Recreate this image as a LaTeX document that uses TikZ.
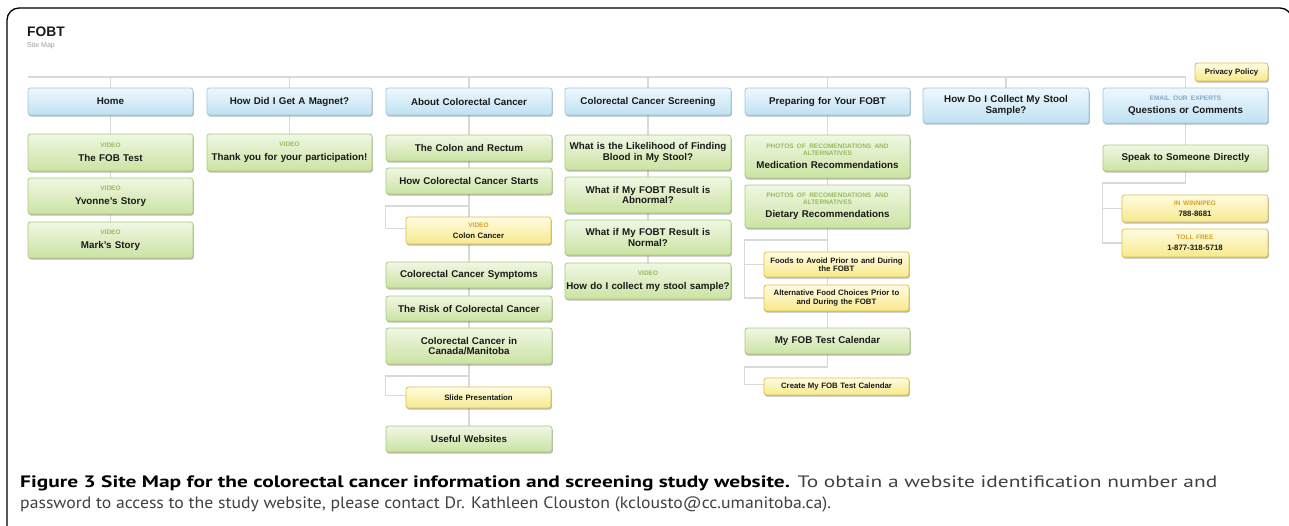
\documentclass[tikz,border=0pt]{standalone}
\usepackage{fontspec}
\usepackage{graphicx}
\setmainfont{Liberation Sans}
\newfontfamily\capfont{PT Sans}
\usetikzlibrary{shadows,backgrounds}
\definecolor{bluetop}{HTML}{EEF8FD}
\definecolor{bluebot}{HTML}{BFE1F3}
\definecolor{blueline}{HTML}{A0CAE1}
\definecolor{greentop}{HTML}{F0F7E4}
\definecolor{greenbot}{HTML}{CBE3A2}
\definecolor{greenline}{HTML}{A6CD78}
\definecolor{yeltop}{HTML}{FFFCE0}
\definecolor{yelbot}{HTML}{F7E98E}
\definecolor{yelline}{HTML}{DDBF4E}
\definecolor{subgreen}{HTML}{97BC5C}
\definecolor{subyel}{HTML}{D3A22A}
\definecolor{subblue}{HTML}{86A9C4}
\definecolor{txt}{HTML}{1A1A1A}
\definecolor{connc}{HTML}{D9D9D9}
\definecolor{capgray}{HTML}{404040}
\definecolor{sitegray}{HTML}{9A9A9A}
\newcommand\mainf{\fontsize{9.8}{10.2}\selectfont\bfseries}
\newcommand\yelf{\fontsize{7.8}{8.4}\selectfont\bfseries}
\newcommand\subg{\fontsize{6.5}{7}\selectfont\bfseries\color{subgreen}}
\newcommand\suby{\fontsize{6.5}{7}\selectfont\bfseries\color{subyel}}
\newcommand\subb{\fontsize{6.5}{7}\selectfont\bfseries\color{subblue}}
\tikzset{
  boxbase/.style={rounded corners=2.5pt, line width=0.8pt, inner xsep=0pt, inner ysep=1pt,
    align=center, text=txt,
    drop shadow={shadow xshift=0.8pt, shadow yshift=-1.6pt, fill=black, opacity=0.28}},
  bluebox/.style={boxbase, draw=blueline, top color=bluetop, bottom color=bluebot,
    font=\mainf, minimum width=165pt, minimum height=27pt, text width=164pt},
  greenbox/.style={boxbase, draw=greenline, top color=greentop, bottom color=greenbot,
    font=\mainf, minimum width=165pt, text width=164pt},
  yelbox/.style={boxbase, draw=yelline, top color=yeltop, bottom color=yelbot,
    font=\yelf, minimum width=145pt, text width=144pt},
  conn/.style={draw=connc, line width=1.4pt}
}
\begin{document}
\begin{tikzpicture}[x=1pt,y=-1pt]
\useasboundingbox (0,0) rectangle (1289,525);
\clip (0,0) rectangle (1289,525);
\draw[line width=1.3pt, rounded corners=12pt] (7,540) -- (7,8) -- (1292,8) -- (1292,540);

% header
\node[anchor=base west, inner sep=0, text=txt, font=\fontsize{13.8}{14}\selectfont\bfseries] (title) at (27,36) {FOBT};
\node[anchor=base west, inner sep=0, text=sitegray, font=\fontsize{7}{8}\selectfont] (sitemap) at (27,47) {Site Map};

% level 1
\node[bluebox] (home) at (110.5,101.5) {Home};
\node[bluebox] (magnet) at (289.5,101.5) {How Did I Get A Magnet?};
\node[bluebox, minimum width=166pt] (about) at (469,101.5) {About Colorectal Cancer};
\node[bluebox, minimum width=166pt] (screen) at (648,101.5) {Colorectal Cancer Screening};
\node[bluebox] (prep) at (827.5,101.5) {Preparing for Your FOBT};
\node[bluebox, minimum width=166pt, minimum height=35pt] (collect) at (1006,105.5) {How Do I Collect My Stool\\Sample?};
\node[bluebox, minimum height=35pt] (quest) at (1185.5,105.5) {{\subb EMAIL OUR EXPERTS}\\[3pt]Questions or Comments};
\node[yelbox, minimum width=73pt, text width=72pt, minimum height=18pt] (privacy) at (1231.5,72) {Privacy Policy};

% column 1
\node[greenbox, minimum height=37pt] (fob) at (110.5,152.5) {{\subg VIDEO}\\[3.5pt]The FOB Test};
\node[greenbox, minimum height=36pt] (yvonne) at (110.5,196) {{\subg VIDEO}\\[3.5pt]Yvonne's Story};
\node[greenbox, minimum height=36pt] (mark) at (110.5,240) {{\subg VIDEO}\\[3.5pt]Mark's Story};
% column 2
\node[greenbox, minimum height=37pt] (thank) at (289.5,152.5) {{\subg VIDEO}\\[3.5pt]Thank you for your participation!};
% column 3
\node[greenbox, minimum width=166pt, minimum height=26pt] (colon) at (469,148) {The Colon and Rectum};
\node[greenbox, minimum width=166pt, minimum height=26pt] (starts) at (469,181) {How Colorectal Cancer Starts};
\node[yelbox, minimum height=27pt] (coloncancer) at (478.5,230.5) {{\suby VIDEO}\\[2.5pt]Colon Cancer};
\node[greenbox, minimum width=166pt, minimum height=26pt] (symptoms) at (469,275) {Colorectal Cancer Symptoms};
\node[greenbox, minimum width=166pt, minimum height=25pt] (risk) at (469,308.5) {The Risk of Colorectal Cancer};
\node[greenbox, minimum width=166pt, minimum height=36pt] (canada) at (469,346) {Colorectal Cancer in\\Canada/Manitoba};
\node[yelbox, minimum height=21pt] (slide) at (478.5,397.5) {Slide Presentation};
\node[greenbox, minimum width=166pt, minimum height=26pt] (useful) at (469,439) {Useful Websites};
% column 4
\node[greenbox, minimum width=166pt, minimum height=35pt] (likely) at (648,152.5) {What is the Likelihood of Finding\\Blood in My Stool?};
\node[greenbox, minimum width=166pt, minimum height=36pt] (abnormal) at (648,195) {What if My FOBT Result is\\Abnormal?};
\node[greenbox, minimum width=166pt, minimum height=35pt] (normal) at (648,237.5) {What if My FOBT Result is\\Normal?};
\node[greenbox, minimum width=166pt, minimum height=36pt] (howdo) at (648,281) {{\subg VIDEO}\\[3.5pt]How do I collect my stool sample?};
% column 5
\node[greenbox, minimum height=43pt] (medic) at (827.5,156.5) {{\subg PHOTOS OF RECOMENDATIONS AND}\\[-3.6pt]{\subg ALTERNATIVES}\\[3.5pt]Medication Recommendations};
\node[greenbox, minimum height=43pt] (dietary) at (827.5,206.5) {{\subg PHOTOS OF RECOMENDATIONS AND}\\[-3.6pt]{\subg ALTERNATIVES}\\[3.5pt]Dietary Recommendations};
\node[yelbox, minimum height=25pt] (foods) at (836.5,264.5) {Foods to Avoid Prior to and During\\the FOBT};
\node[yelbox, minimum height=26pt] (altern) at (836.5,298) {Alternative Food Choices Prior to\\and During the FOBT};
\node[greenbox, minimum height=26pt] (calendar) at (827.5,341) {My FOB Test Calendar};
\node[yelbox, minimum height=17pt] (create) at (836.5,386.5) {Create My FOB Test Calendar};
% column 7
\node[greenbox, minimum height=26pt] (speak) at (1185.5,158) {Speak to Someone Directly};
\node[yelbox, minimum width=146pt, text width=145pt, minimum height=27pt] (winnipeg) at (1195,208.5) {{\suby IN WINNIPEG}\\[2.5pt]788-8681};
\node[yelbox, minimum width=146pt, text width=145pt, minimum height=28pt] (tollfree) at (1195,243) {{\suby TOLL FREE}\\[2.5pt]1-877-318-5718};

% caption
\node[anchor=base west, inner sep=0] (cap1) at (20,487) {\resizebox{1197pt}{\height}{\capfont\fontsize{16.5}{20}\selectfont\textbf{Figure 3 Site Map for the colorectal cancer information and screening study website.} {\color{capgray}To obtain a website identification number and}}};
\node[anchor=base west, inner sep=0] (cap2) at (20,508) {\resizebox{811pt}{\height}{\capfont\fontsize{16.5}{20}\selectfont\color{capgray}password to access to the study website, please contact Dr. Kathleen Clouston (kclousto@cc.umanitoba.ca).}};

% connectors
\begin{pgfonlayer}{background}
\coordinate (topL) at (28,77);
\draw[conn] (topL) -- (topL -| quest.north);
\foreach \n in {home,magnet,about,screen,prep,collect,quest}
  \draw[conn] (\n.north) -- (\n.north |- topL);
\draw[conn] (home.south) -- (mark.north);
\draw[conn] (magnet.south) -- (thank.north);
\draw[conn] (about.south) -- (useful.north);
\draw[conn] (screen.south) -- (howdo.north);
\draw[conn] (prep.south) -- (calendar.north);
\draw[conn] (quest.south) -- (speak.north);
% col 3 branches
\coordinate (b3a) at (469,206);
\coordinate (b3b) at (469,376);
\draw[conn] (b3a) -- (b3a -| about.west) -- ([yshift=2pt]about.west |- coloncancer.west) -- ([yshift=2pt]coloncancer.west);
\draw[conn] (b3b) -- (b3b -| about.west) -- ([yshift=2pt]about.west |- slide.west) -- ([yshift=2pt]slide.west);
% col 5 branches
\coordinate (b5a) at (827.5,240);
\coordinate (b5b) at (827.5,367);
\draw[conn] (b5a) -- (b5a -| prep.west) -- (prep.west |- altern.west) -- (altern.west);
\draw[conn] (prep.west |- foods.west) -- (foods.west);
\draw[conn] (calendar.south) -- (b5b) -- (b5b -| prep.west) -- ([yshift=2pt]prep.west |- create.west) -- ([yshift=2pt]create.west);
% col 7 branches
\coordinate (b7) at (1185.5,183);
\draw[conn] (speak.south) -- (b7) -- (b7 -| quest.west) -- (quest.west |- tollfree.west) -- (tollfree.west);
\draw[conn] (quest.west |- winnipeg.west) -- (winnipeg.west);
\end{pgfonlayer}
\end{tikzpicture}
\end{document}
